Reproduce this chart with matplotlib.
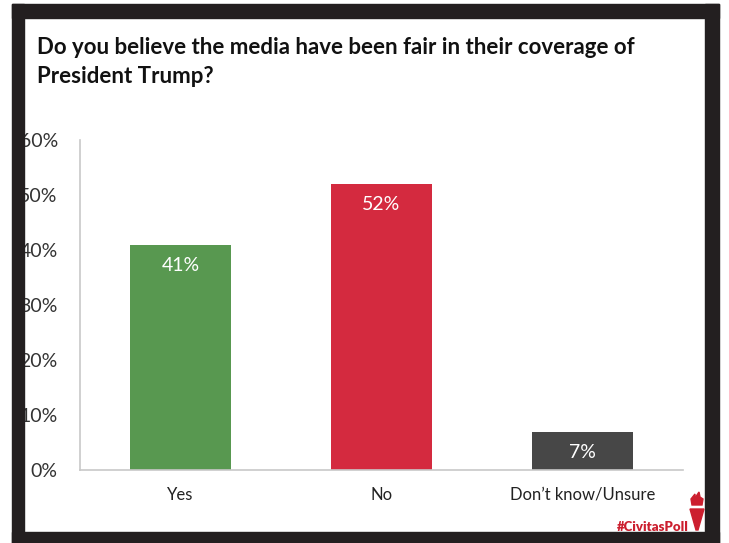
import matplotlib
matplotlib.use("Agg")
import matplotlib.pyplot as plt
from matplotlib.patches import Rectangle, Polygon

plt.rcParams['font.family'] = ['Lato', 'DejaVu Sans']

categories = ["Yes", "No", "Don\u2019t know/Unsure"]
values = [41, 52, 7]
colors = ["#589850", "#d42a3f", "#474747"]
yticks = [0, 10, 20, 30, 40, 50, 60]

W, H = 729, 543
fig = plt.figure(figsize=(W / 100, H / 100), dpi=100)
fig.patch.set_facecolor("white")

ax = fig.add_axes([80 / W, 73 / H, 603 / W, 330 / H])
x = range(len(categories))
bars = ax.bar(x, values, width=0.5, color=colors, zorder=2)
ax.set_xlim(-0.5, 2.5)
ax.set_ylim(0, 60)
ax.set_yticks(yticks)
ax.set_yticklabels([f"{v}%" for v in yticks], fontsize=14, color="#333333")
ax.set_xticks(list(x))
ax.set_xticklabels(categories, fontsize=12, color="#222222")
ax.tick_params(axis="y", length=0, pad=16)
ax.tick_params(axis="x", length=0, pad=12)
for s in ["top", "right"]:
    ax.spines[s].set_visible(False)
for s in ["left", "bottom"]:
    ax.spines[s].set_color("#c8c8c8")
    ax.spines[s].set_linewidth(1.2)

for b, v in zip(bars, values):
    ax.text(b.get_x() + b.get_width() / 2, v - 2.2, f"{v}%", ha="center", va="top",
            color="white", fontsize=14)

fig.text(37 / W, 1 - 62 / H, "Do you believe the media have been fair in their coverage of\nPresident Trump?",
         fontsize=16, fontweight="bold", ha="left", va="center", linespacing=1.45, color="#111111")

# dark frame
fc = "#231f20"
for (x0, y0, w, h) in [(12, 4, 707, 14), (12, 4, 12, 539), (705, 4, 14, 539), (12, 532, 707, 11)]:
    fig.patches.append(Rectangle((x0 / W, 1 - (y0 + h) / H), w / W, h / H,
                                 transform=fig.transFigure, color=fc, zorder=5))

# hashtag and torch
fig.text(689 / W, 1 - 527 / H, "#CivitasPoll", color="#cc1f2f", fontsize=9.5, fontweight="heavy",
         ha="right", va="center", zorder=6)
def fp(px, py):
    return (px / W, 1 - py / H)
torch_cup = Polygon([fp(690, 509), fp(704, 509), fp(698, 530), fp(696, 530)],
                    closed=True, transform=fig.transFigure, color="#cc1f2f", zorder=6)
flame = Polygon([fp(692, 505), fp(691, 499), fp(695, 494), fp(695, 498), fp(699, 492),
                 fp(700, 497), fp(703, 499), fp(702, 505)],
                closed=True, transform=fig.transFigure, color="#cc1f2f", zorder=6)
fig.patches.extend([torch_cup, flame])

fig.savefig("out.png", dpi=100)
